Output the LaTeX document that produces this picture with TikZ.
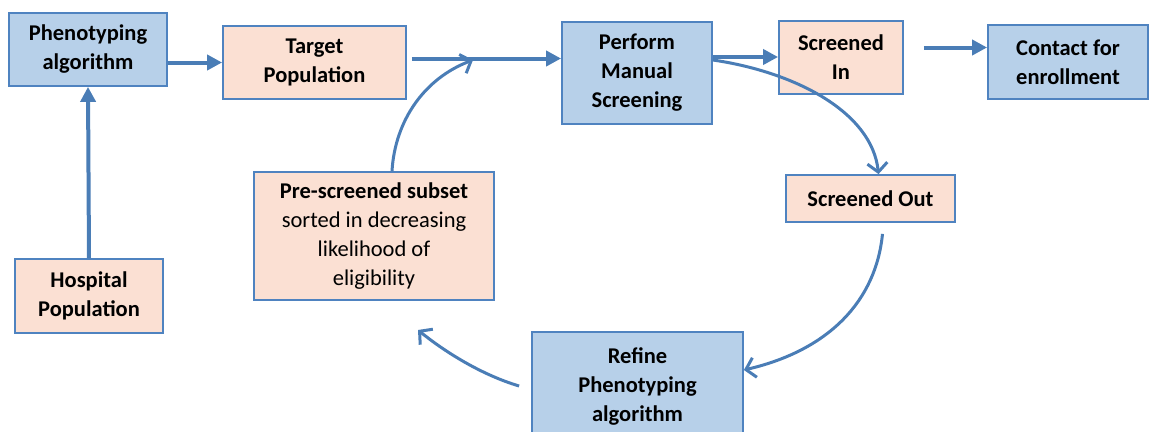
\documentclass[tikz,border=0pt]{standalone}
\usepackage{fontspec}
\setmainfont{Carlito}
\usetikzlibrary{arrows.meta}
\definecolor{bluefill}{HTML}{B7D0E9}
\definecolor{pinkfill}{HTML}{FBE0D3}
\definecolor{boxline}{HTML}{4F83C0}
\definecolor{arrowc}{HTML}{4A7DB6}
\tikzset{
  box/.style={draw=boxline, line width=1.8pt, align=center, font=\bfseries\fontsize{22.5}{29}\selectfont, inner sep=0pt},
  bluebox/.style={box, fill=bluefill},
  pinkbox/.style={box, fill=pinkfill},
  flow/.style={draw=arrowc, line width=4pt, -{Triangle[length=15pt,width=15pt]}},
  loop/.style={draw=arrowc, line width=3pt, -{Straight Barb[length=9pt,width=20pt,line width=3pt]}},
}
\begin{document}
\begin{tikzpicture}[x=1pt,y=-1pt]
\useasboundingbox (0,0) rectangle (1151,431);
\clip (0,0) rectangle (1151,431);
\node[bluebox, minimum width=158pt, minimum height=73pt] (PA) at (88,49.5) {Phenotyping\\algorithm};
\node[pinkbox, minimum width=183pt, minimum height=73pt] (TP) at (314.5,62.5) {Target\\Population};
\node[bluebox, minimum width=150pt, minimum height=102pt] (PM) at (637,73) {Perform\\Manual\\Screening};
\node[pinkbox, minimum width=124pt, minimum height=73pt] (SI) at (841,57.5) {Screened\\In};
\node[bluebox, minimum width=160pt, minimum height=74pt] (CE) at (1068,62) {Contact for\\enrollment};
\node[pinkbox, minimum width=169pt, minimum height=47pt] (SO) at (870.5,198.5) {Screened Out};
\node[pinkbox, minimum width=240pt, minimum height=128pt, font=\fontsize{22.5}{29}\selectfont] (PS) at (374,236) {\textbf{Pre-screened subset}\\sorted in decreasing\\likelihood of\\eligibility};
\node[pinkbox, minimum width=148pt, minimum height=74pt] (HP) at (89,296) {Hospital\\Population};
\node[bluebox, minimum width=211pt, minimum height=108pt] (RP) at (637.5,386) {Refine\\Phenotyping\\algorithm};

\coordinate (tpout) at ([xshift=5pt,yshift=4pt]TP.east);
\coordinate (siout) at ([xshift=20pt,yshift=10pt]SI.east);
\coordinate (soout) at ([xshift=12pt,yshift=-11pt]SO.south);
\coordinate (rpout) at ([xshift=-12pt]RP.west);
\coordinate (psend) at (418,330);
\coordinate (pmend) at (473,60);

\draw[flow] (HP.north) -- (PA.south);
\draw[flow] (PA.east |- TP.west) -- (TP.west);
\draw[flow] (tpout) -- (PM.west |- tpout);
\draw[flow] ([yshift=16pt]PM.east) -- ([yshift=16pt]PM.east -| SI.west);
\draw[flow] (siout) -- (siout -| CE.west);

\draw[loop] ([yshift=13pt]PM.east) .. controls (795,72) and (872,112) .. ([xshift=8pt]SO.north);
\draw[loop] (soout) .. controls (876,300) and (830,350) .. ([yshift=16pt]RP.east);
\draw[loop] (rpout) .. controls (482,375) and (445,352) .. (psend);
\draw[loop] ([xshift=18pt]PS.north) .. controls (395,120) and (425,78) .. (pmend);
\end{tikzpicture}
\end{document}
